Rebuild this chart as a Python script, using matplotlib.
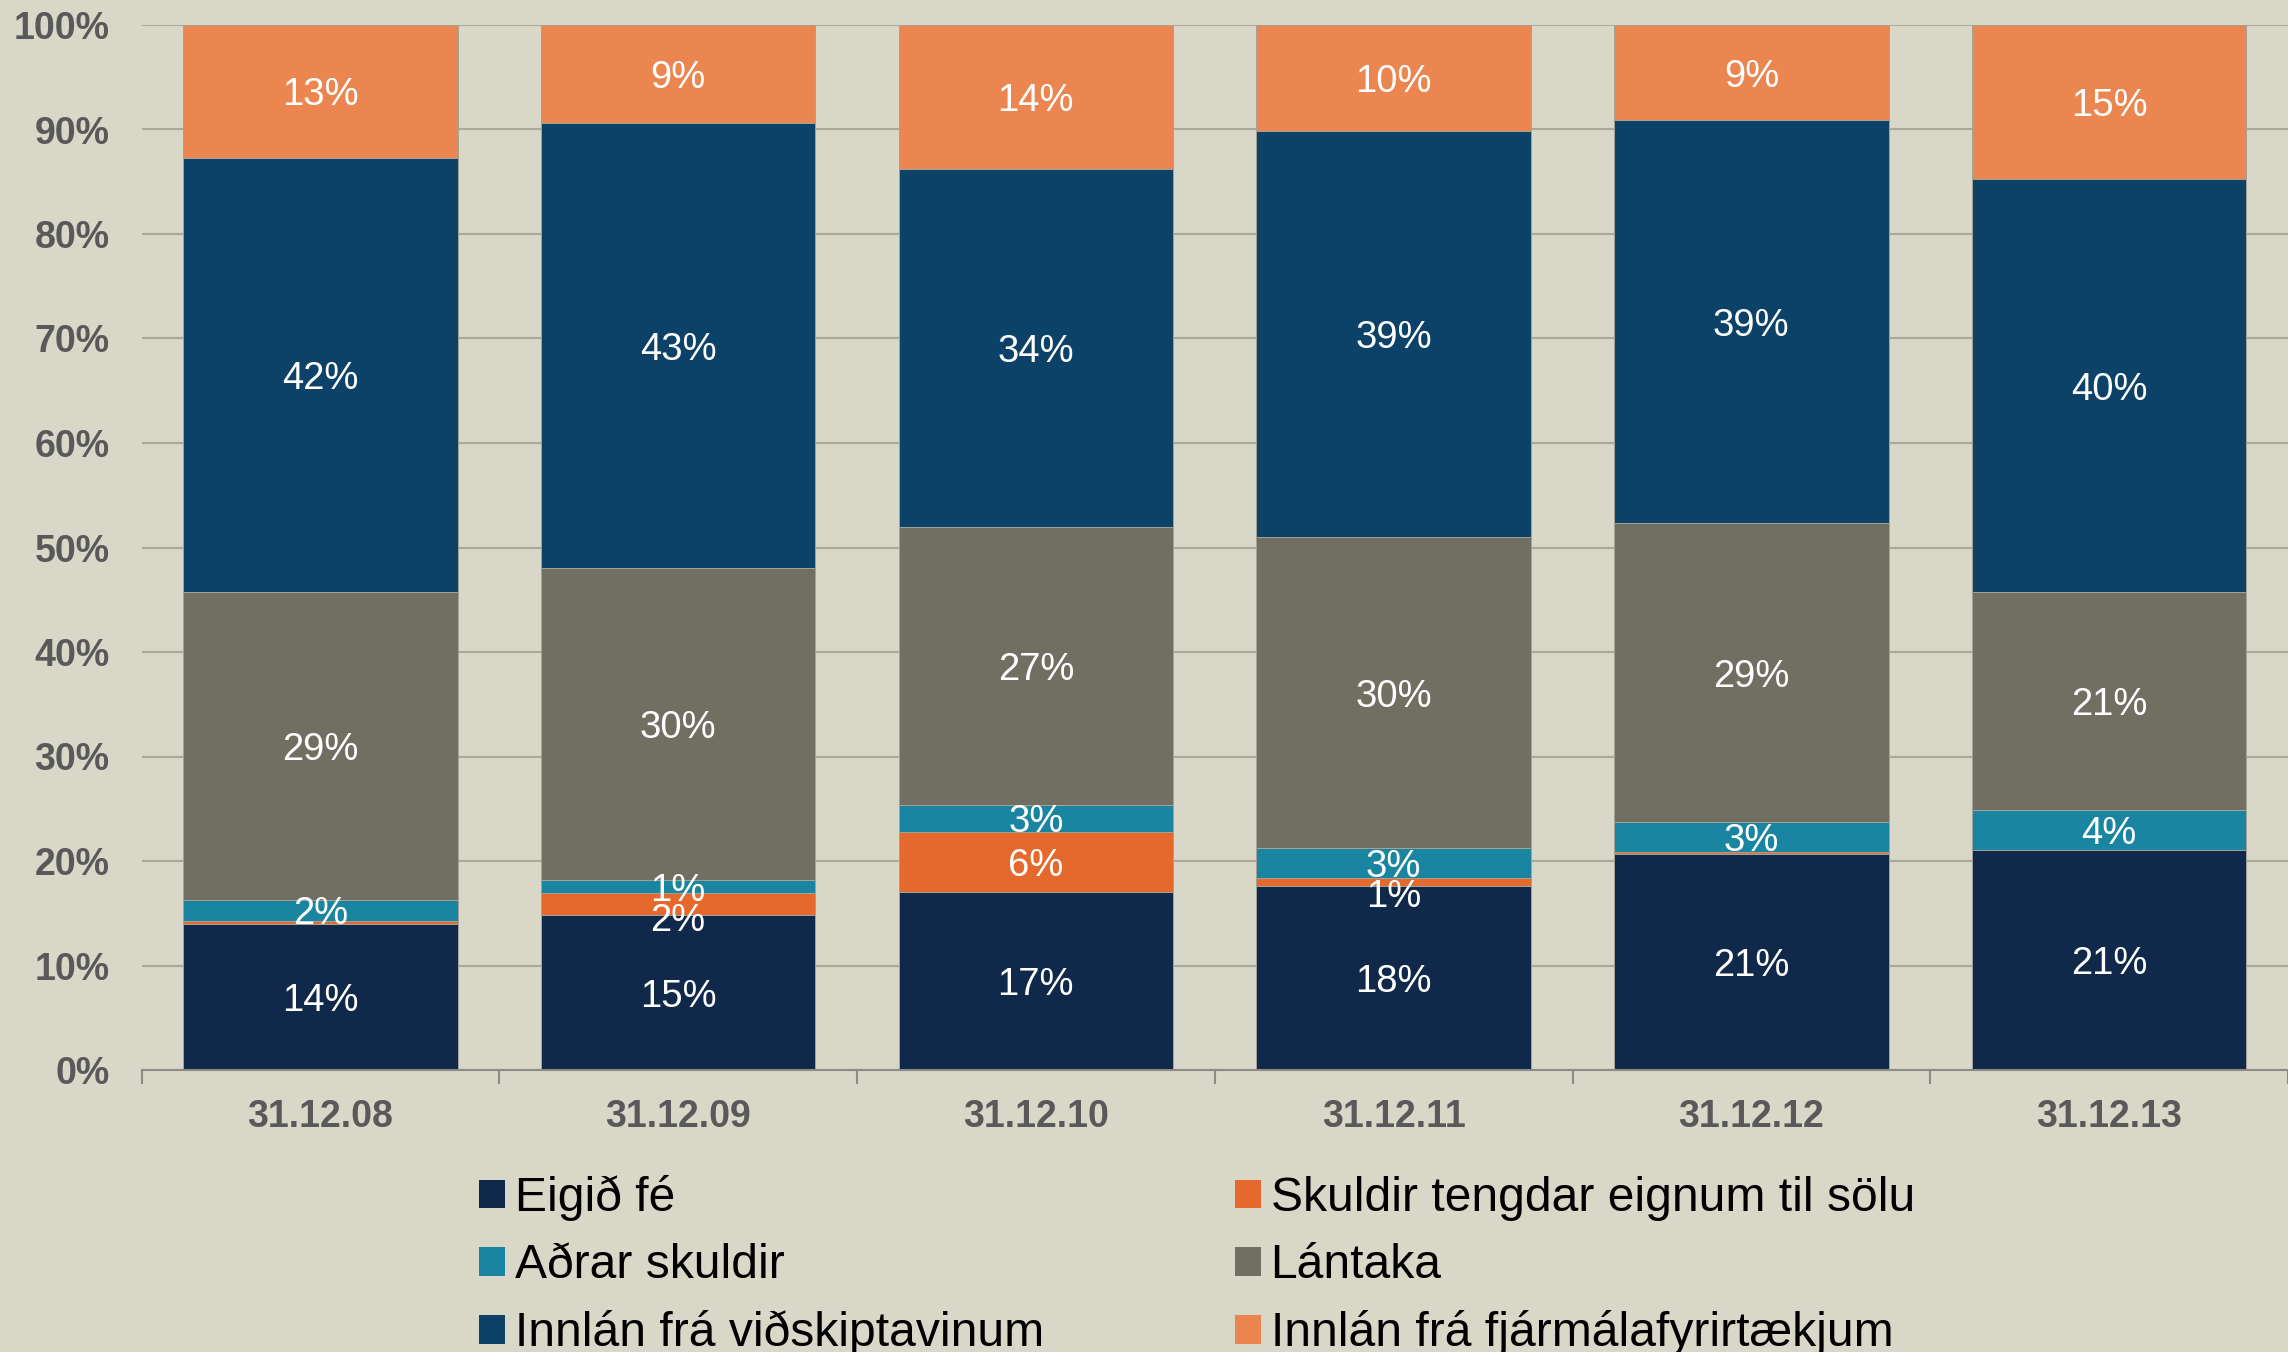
import matplotlib
matplotlib.use("Agg")
import matplotlib.pyplot as plt
from matplotlib.patches import Patch
import numpy as np

plt.rcParams['font.family'] = ['Liberation Sans', 'DejaVu Sans']

dates = ["31.12.08", "31.12.09", "31.12.10", "31.12.11", "31.12.12", "31.12.13"]

# share of total, in %
eigid_fe = [14.0, 14.8, 17.0, 17.6, 20.7, 21.1]
skuldir_til_solu = [0.3, 2.1, 5.8, 0.8, 0.2, 0.0]
adrar_skuldir = [2.0, 1.3, 2.6, 2.8, 2.8, 3.8]
lantaka = [29.4, 29.8, 26.6, 29.8, 28.6, 20.8]
innlan_vidskipta = [41.6, 42.6, 34.2, 38.9, 38.6, 39.6]
innlan_fjarmala = [12.7, 9.4, 13.8, 10.1, 9.1, 14.7]

series = [
    ("Eigið fé", eigid_fe, "#10294a"),
    ("Skuldir tengdar eignum til sölu", skuldir_til_solu, "#e5692d"),
    ("Aðrar skuldir", adrar_skuldir, "#1a85a0"),
    ("Lántaka", lantaka, "#716f62"),
    ("Innlán frá viðskiptavinum", innlan_vidskipta, "#0c4168"),
    ("Innlán frá fjármálafyrirtækjum", innlan_fjarmala, "#eb8650"),
]

bg = "#d9d7c8"
fig = plt.figure(figsize=(22.88, 13.52), dpi=100, facecolor=bg)
ax = fig.add_axes([141.5 / 2288, 1 - 1070 / 1352, 1 - 141.5 / 2288, (1070 - 25) / 1352])
ax.set_facecolor(bg)

x = np.arange(len(dates))
bottom = np.zeros(len(dates))
labels = [[] for _ in dates]
for name, vals, col in series:
    vals = np.array(vals)
    ax.bar(x, vals, 0.767, bottom=bottom, color=col, edgecolor="#a3a396",
           linewidth=0.7, zorder=3)
    for i, v in enumerate(vals):
        if v >= 0.5:
            labels[i].append([bottom[i] + v / 2, f"{round(v)}%"])
    bottom += vals

# keep tiny neighbouring labels apart, like the original
min_gap = 2.9
for i, labs in enumerate(labels):
    for k in range(len(labs) - 2, -1, -1):
        if labs[k + 1][0] - labs[k][0] < min_gap:
            labs[k][0] = labs[k + 1][0] - min_gap
    for y, t in labs:
        ax.text(x[i], y, t, ha="center", va="center_baseline", color="white",
                fontsize=27.5, zorder=5)

ax.set_xlim(-0.5, len(dates) - 0.5)
ax.set_ylim(0, 100)
ax.set_yticks(np.arange(0, 101, 10))
ax.set_yticklabels([f"{v}%" for v in range(0, 101, 10)])
ax.set_xticks(x)
ax.set_xticklabels(dates)
ax.set_xticks(np.arange(-0.5, len(dates), 1), minor=True)
ax.tick_params(axis="y", length=0, pad=23, labelsize=27, labelcolor="#595959")
ax.tick_params(axis="x", which="major", length=0, pad=21, labelsize=27,
               labelcolor="#595959")
ax.tick_params(axis="x", which="minor", length=10, width=1.5, color="#8c8c84")
for lab in ax.get_xticklabels() + ax.get_yticklabels():
    lab.set_fontweight("bold")

ax.grid(axis="y", color="#a9a899", linewidth=1.5, zorder=0)
ax.set_axisbelow(True)
for s in ["left", "right", "top"]:
    ax.spines[s].set_visible(False)
ax.spines["bottom"].set_color("#8c8c84")
ax.spines["bottom"].set_linewidth(1.5)
ax.spines["bottom"].set_zorder(4)

order = [0, 2, 4, 1, 3, 5]
handles = [Patch(facecolor=series[k][2], label=series[k][0]) for k in order]
fig.legend(handles=handles, ncol=2, frameon=False, loc="upper left",
           bbox_to_anchor=(479 / 2288, 1 - 1175 / 1352), fontsize=34.6,
           handlelength=0.55, handleheight=0.55, handletextpad=0.19,
           columnspacing=3.98, labelspacing=0.46, borderpad=0, borderaxespad=0)

fig.savefig("out.png", dpi=100, facecolor=bg)
